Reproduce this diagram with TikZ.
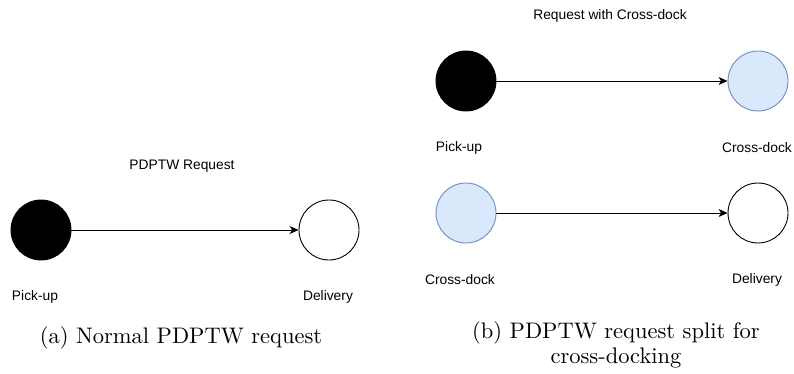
\documentclass[tikz,border=0pt]{standalone}
\usepackage{fontspec}
\newfontfamily\labelfont{Liberation Sans}
\newfontfamily\capfont{lmroman10-regular}[Extension=.otf]
\usetikzlibrary{arrows.meta}
\definecolor{dockfill}{HTML}{DAE8FC}
\definecolor{dockline}{HTML}{6C8EBF}
\begin{document}
\begin{tikzpicture}[x=1pt,y=-1pt,
  stop/.style={circle,draw=black,line width=0.9pt,minimum size=60pt,inner sep=0pt},
  pickup/.style={stop,fill=black},
  delivery/.style={stop,fill=white},
  dock/.style={stop,draw=dockline,fill=dockfill},
  lbl/.style={font=\labelfont\fontsize{13.8}{16}\selectfont,inner sep=0pt},
  captiontext/.style={font=\capfont\fontsize{22.5}{25}\selectfont,inner sep=0pt,align=center,anchor=base},
  flow/.style={-{Stealth[length=9pt,width=8pt,inset=2.5pt]},line width=0.9pt}]
\useasboundingbox (0,0) rectangle (794,374);

% (a) normal request
\node[lbl] (ta) at (182,166) {PDPTW Request};
\node[pickup] (p1) at (41,230) {};
\node[delivery] (d1) at (329,230) {};
\node[lbl] (lp1) at (35,297) {Pick-up};
\node[lbl] (ld1) at (328,297) {Delivery};
\draw[flow] (p1) -- (d1);

% (b) request split at the cross-dock
\node[lbl] (tb) at (610,16) {Request with Cross-dock};
\node[pickup] (p2) at (466,81) {};
\node[dock] (c1) at (758,81) {};
\node[lbl] (lp2) at (459,148) {Pick-up};
\node[lbl] (lc1) at (757,148) {Cross-dock};
\draw[flow] (p2) -- (c1);

\node[dock] (c2) at (466,213) {};
\node[delivery] (d2) at (758,213) {};
\node[lbl] (lc2) at (460,280) {Cross-dock};
\node[lbl] (ld2) at (757,280) {Delivery};
\draw[flow] (c2) -- (d2);

% captions (base anchor sits on the last line)
\node[captiontext] (capa) at (181,343) {(a) Normal PDPTW request};
\node[captiontext] (capb) at (616,363) {(b) PDPTW request split for\\cross-docking};
\end{tikzpicture}
\end{document}
